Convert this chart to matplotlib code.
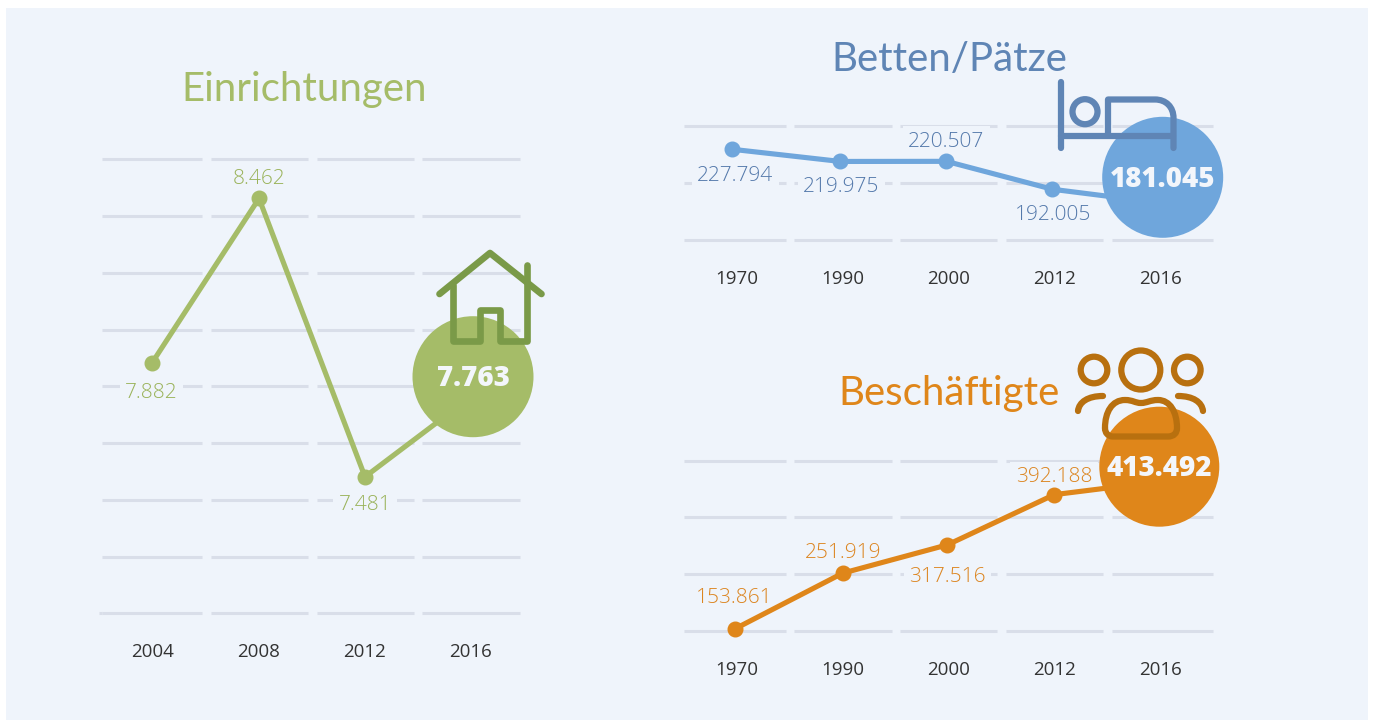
import matplotlib
matplotlib.use("Agg")
import matplotlib.pyplot as plt
from matplotlib.patches import Circle, PathPatch, Rectangle
from matplotlib.path import Path

W, H = 1373, 720

# Einrichtungen
einr_years = ["2004", "2008", "2012", "2016"]
einr_pos = [-0.01, 1.0, 2.0, 3.0]
einr_values = [7882, 8462, 7481, 7763]
einr_labels = ["7.882", "8.462", "7.481"]
einr_big = "7.763"
einr_ticks = [7000, 7200, 7400, 7600, 7800, 8000, 8200, 8400, 8600]

# Betten/Plaetze (plotted heights)
bett_years = ["1970", "1990", "2000", "2012", "2016"]
bett_pos = [-0.044, 0.977, 1.98, 2.983, 4.0]
bett_values = [229560, 218900, 219000, 194500, 182600]
bett_labels = ["227.794", "219.975", "220.507", "192.005"]
bett_big = "181.045"
bett_ticks = [150000, 200000, 250000]

# Beschaeftigte (the 2000 point sits lower than its label says)
besch_years = ["1970", "1990", "2000", "2012", "2016"]
besch_pos = [-0.019, 1.0, 1.99, 3.0, 4.0]
besch_values = [153861, 251919, 301800, 390200, 413492]
besch_labels = ["153.861", "251.919", "317.516", "392.188"]
besch_big = "413.492"
besch_ticks = [150000, 250000, 350000, 450000]

BG = "#EFF4FB"
GRID = "#D9DEE9"
GREEN, GREEN_D, GREEN_T = "#A5BC68", "#7A9A48", "#9AB35A"
BLUE, BLUE_T, BLUE_L = "#6FA6DC", "#5F85B5", "#5479AB"
ORANGE, ORANGE_D, ORANGE_T = "#DF861A", "#B8700F", "#DC8520"

LEFT_SEG = [(102, 202.3), (210.7, 308), (316.7, 414), (422.3, 520)]
RIGHT_SEG = [(684, 786), (794, 891.5), (900, 997), (1006, 1103), (1112, 1213)]

plt.rcParams["font.family"] = ["Open Sans", "DejaVu Sans"]

fig = plt.figure(figsize=(W / 100, H / 100), dpi=100, facecolor="white")
fig.patches.append(Rectangle((6 / W, 0), 1362 / W, 712 / H, transform=fig.transFigure,
                             facecolor=BG, edgecolor="none", zorder=-1))


def panel(years, pos, values, ticks, labels, offsets, color, text_color, segs, top, bottom, first, step):
    # axes box runs over the grid pieces and from top to bottom in pixels
    x0, x1 = segs[0][0], segs[-1][1]
    ax = fig.add_axes([x0 / W, 1 - bottom / H, (x1 - x0) / W, (bottom - top) / H])
    ax.patch.set_alpha(0)
    ax.set_xlim((x0 - first) / step, (x1 - first) / step)
    ax.set_ylim(ticks[0], ticks[-1])
    for s in ax.spines.values():
        s.set_visible(False)
    ax.set_yticks([])
    ax.set_xticks(range(len(years)), years, fontsize=13.5, color="#333333")
    ax.tick_params(axis="x", length=0, pad=21.5)
    # each grid line is cut into one piece per year
    for a, b in segs:
        ax.hlines(ticks, (a - first) / step, (b - first) / step, color=GRID, lw=2.2,
                  clip_on=False, zorder=1)
    ax.plot(pos, values, color=color, lw=3.7, marker="o", ms=10.5, zorder=3,
            clip_on=False, solid_joinstyle="round")
    for i, lab in enumerate(labels):
        ax.annotate(lab, (pos[i], values[i]), xytext=(offsets[i][0], offsets[i][1] - 2.5),
                    textcoords="offset pixels", ha="center", va="center", fontsize=15,
                    fontweight="light", color=text_color, zorder=2,
                    bbox=dict(facecolor=BG, edgecolor="none", pad=4))
    return ax


panel(einr_years, einr_pos, einr_values, einr_ticks, einr_labels, [(-0.5, -27), (0, 22), (0, -26)],
      GREEN, GREEN_T, LEFT_SEG, 159.3, 613.3, 153, 106)
panel(bett_years, bett_pos, bett_values, bett_ticks, bett_labels, [(3, -23.7), (1, -23.2), (0, 22.3), (0.3, -23.4)],
      BLUE, BLUE_L, RIGHT_SEG, 126, 240, 737, 105.75)
panel(besch_years, besch_pos, besch_values, besch_ticks, besch_labels, [(-0.7, 33.3), (0, 23), (0, -30), (0, 20)],
      ORANGE, ORANGE_T, RIGHT_SEG, 460.7, 631, 737, 105.75)

# overlay in pixel coordinates for circles, icons and titles
ov = fig.add_axes([0, 0, 1, 1])
ov.set_xlim(0, W)
ov.set_ylim(H, 0)
ov.axis("off")
ov.patch.set_alpha(0)

# first grid piece of the bottom line starts a little further left
ov.hlines(613.3, 99, 102, color=GRID, lw=2.2, zorder=1)

ov.text(304.5, 89.5, "Einrichtungen", color=GREEN, fontsize=29, family="Lato", ha="center", va="center")
ov.text(949, 59.5, "Betten/Pätze", color=BLUE_T, fontsize=29, family="Lato", ha="center", va="center")
ov.text(948.5, 393.5, "Beschäftigte", color=ORANGE, fontsize=29, family="Lato", ha="center", va="center")

for (cx, cy, r, col, txt) in [(473, 376.7, 60.5, GREEN, einr_big),
                              (1162.7, 177.3, 60.5, BLUE, bett_big),
                              (1159.3, 466.7, 60, ORANGE, besch_big)]:
    ov.add_patch(Circle((cx, cy), r, facecolor=col, edgecolor="none", zorder=5))
    ov.text(cx, cy + 2, txt, color="#F3F6FB", fontsize=20, fontweight=800, ha="center", va="center", zorder=6)


def stroke(verts, col, lw=4.5, codes=None):
    p = Path(verts, codes)
    ov.add_patch(PathPatch(p, facecolor="none", edgecolor=col, lw=lw, capstyle="round",
                           joinstyle="round", zorder=7))


# house
stroke([(439.5, 294), (490, 253), (541.5, 294)], GREEN_D, lw=4.8)
stroke([(527, 265), (527, 340.5), (500, 340.5), (500, 310), (480, 310), (480, 340.5), (453, 340.5), (453, 285)],
       GREEN_D, lw=4.8)

# bed
stroke([(1060.7, 82), (1060.7, 148)], BLUE_T)
stroke([(1061, 135.7), (1173, 135.7)], BLUE_T)
C4 = Path.CURVE4
L2 = Path.LINETO
M = Path.MOVETO
stroke([(1173.5, 148), (1173.5, 118), (1173.5, 107), (1166, 99.5), (1155, 99.5), (1108, 99.5), (1108, 135.7)], BLUE_T,
       codes=[M, L2, C4, C4, C4, L2, L2])
ov.add_patch(Circle((1085, 111.7), 12.5, facecolor="none", edgecolor=BLUE_T, lw=4.5, zorder=7))

# people
for cx, r in [(1094, 13.3), (1140.8, 19.5), (1187.3, 13.3)]:
    ov.add_patch(Circle((cx, 370), r, facecolor="none", edgecolor=ORANGE_D, lw=4.5, zorder=7))
stroke([(1078, 411), (1079, 402), (1088, 396), (1103, 396)], ORANGE_D, codes=[M, C4, C4, C4])
stroke([(1203, 411), (1202, 402), (1193, 396), (1178, 396)], ORANGE_D, codes=[M, C4, C4, C4])
stroke([(1105, 428), (1105, 412), (1112, 400), (1125, 400),
        (1133, 400), (1135, 403), (1141, 403),
        (1147, 403), (1150, 400), (1158, 400),
        (1170, 400), (1177, 412), (1177, 428),
        (1177, 433), (1174, 436.5), (1168, 436.5),
        (1113, 436.5),
        (1108, 436.5), (1105, 433), (1105, 428)], ORANGE_D,
       codes=[M, C4, C4, C4, C4, C4, C4, C4, C4, C4, C4, C4, C4, C4, C4, C4, L2, C4, C4, C4])

fig.savefig("out.png", dpi=100, facecolor="white")
